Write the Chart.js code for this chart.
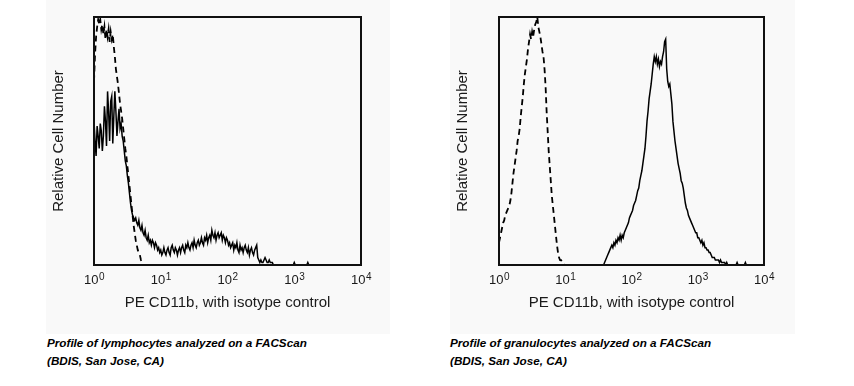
<!DOCTYPE html>
<html>
<head>
<meta charset="utf-8">
<script src="https://cdn.jsdelivr.net/npm/chart.js@4.4.1/dist/chart.umd.min.js"></script>
<style>
    body { margin: 0; width: 854px; height: 386px; background: #fff; position: relative; overflow: hidden; font-family: 'Liberation Sans', Arial, sans-serif; }
    .panel { position: absolute; top: 0; height: 334px; background: #f9f9f9; }
    .caption { position: absolute; top: 334px; font-size: 11.7px; line-height: 18px; font-weight: bold; font-style: italic; color: #000; }
</style>
</head>
<body>
<div class="panel" style="left:46px; width:344px;"><canvas id="lymphChart" width="344" height="334"></canvas></div>
<div class="panel" style="left:450px; width:345px;"><canvas id="granChart" width="345" height="334"></canvas></div>
<div class="caption" style="left:47px;">Profile of lymphocytes analyzed on a FACScan<br>(BDIS, San Jose, CA)</div>
<div class="caption" style="left:450px;">Profile of granulocytes analyzed on a FACScan<br>(BDIS, San Jose, CA)</div>

<script>
// x axis is in channels, 64 channels per decade (10^0 .. 10^4)
const tickChannels = [0, 64, 128, 192, 256];
const tickBase = '10';
const tickExponents = ['0', '1', '2', '3', '4'];
const xTitle = 'PE CD11b, with isotype control';
const yTitle = 'Relative Cell Number';

// Lymphocytes - isotype control (dashed), starts at channel 0
const lymphIsoStart = 0;
const lymphIso = [74, 85, 92, 96, 99, 97, 99, 95, 97, 93, 96, 91, 95, 92, 95, 90, 94, 91, 93, 88,
    84, 79, 76, 73, 69, 65, 62, 59, 55, 51, 47, 44, 40, 36, 32, 28, 24, 20, 16, 13,
    10, 8, 6, 5, 4, 2, 1, 0];

// Lymphocytes - PE CD11b (solid), starts at channel 0
const lymphStainStart = 0;
const lymphStain = [58, 50, 44, 56, 52, 47, 57, 54, 46, 52,
    64, 58, 48, 70, 62, 50, 66, 68, 49, 60,
    70, 62, 52, 58, 63, 55, 57, 52, 50, 46,
    42, 40, 36, 33, 29, 25, 22, 20, 19, 18,
    19, 17, 16, 18, 15, 14, 16, 13, 12, 14,
    11, 10, 12, 9, 10, 8, 10, 9, 7, 9,
    8, 6, 7, 5, 6, 4, 5, 7, 5, 4,
    6, 7, 5, 4, 7, 8, 6, 5, 7, 6,
    4, 6, 7, 5, 7, 8, 6, 5, 8, 7,
    9, 7, 6, 8, 9, 7, 10, 8, 7, 9,
    10, 8, 9, 11, 9, 8, 11, 10, 12, 9,
    11, 12, 10, 14, 12, 11, 13, 10, 12, 13,
    11, 12, 13, 10, 12, 11, 9, 11, 10, 8,
    9, 7, 8, 9, 6, 8, 7, 9, 6, 5,
    8, 6, 7, 5, 7, 8, 6, 5, 7, 4,
    6, 7, 5, 4, 6, 7, 8, 3, 2, 1,
    2, 1, 1, 2, 3, 2, 1, 1, 2, 1,
    1, 1, 0, 0, 0, 0, 0, 0, 0, 0,
    0, 0, 0, 0, 0, 0, 0, 0, 0, 0,
    0, 0, 1, 0, 0, 0, 0, 0, 0, 0,
    0, 0, 0, 0, 0, 1, 0, 0];

// Granulocytes - isotype control (dashed)
const granIsoStart = 0;
const granIso = [9, 11, 13, 15, 17, 18, 20, 21, 22, 23, 24, 26, 29, 33, 37, 40, 43, 46, 50, 52,
    55, 60, 64, 68, 73, 77, 80, 83, 87, 90, 93, 91, 94, 92, 95, 97, 98, 100, 96, 94,
    92, 89, 86, 84, 79, 72, 62, 54, 46, 40, 34, 28, 24, 20, 16, 12, 8, 5, 3, 2,
    2, 1, 1, 0, 0];

// Granulocytes - PE CD11b (solid), starts at channel 100
const granStainStart = 100;
const granStain = [0, 0, 1, 2, 3, 4, 5, 6, 7, 8,
    7, 9, 8, 10, 9, 11, 10, 12, 10, 12,
    11, 13, 14, 15, 16, 17, 19, 20, 21, 22,
    24, 25, 26, 28, 30, 31, 34, 36, 38, 41,
    44, 47, 52, 58, 62, 67, 70, 73, 77, 81,
    84, 82, 84, 81, 83, 80, 82, 81, 84, 86,
    90, 91, 79, 74, 72, 73, 69, 65, 58, 54,
    50, 47, 44, 41, 39, 37, 34, 33, 31, 28,
    25, 23, 22, 20, 19, 18, 17, 16, 15, 14,
    13, 13, 11, 11, 10, 9, 10, 8, 9, 7,
    7, 6, 6, 5, 5, 4, 3, 3, 3, 2,
    2, 2, 2, 1, 2, 1, 1, 1, 1, 0,
    1, 0, 0, 0, 0, 0, 0, 0, 0, 0,
    1, 0, 0, 0, 0, 0, 0, 0, 1, 0,
    0, 0, 0, 0, 0, 0];

const fontFamily = "'Liberation Sans', Arial, sans-serif";
const textColor = '#1a1a1a';

function toPoints(start, values) {
    return values.map((y, i) => ({ x: start + i, y: y }));
}

// black frame round the plot area + "10^n" tick labels with a real superscript
const frameAndTicks = {
    id: 'frameAndTicks',
    afterDraw(chart) {
        const { ctx, chartArea } = chart;
        const xScale = chart.scales.x;
        ctx.save();
        ctx.strokeStyle = '#111';
        ctx.lineWidth = 2;
        ctx.strokeRect(chartArea.left, chartArea.top, chartArea.right - chartArea.left, chartArea.bottom - chartArea.top);

        ctx.fillStyle = textColor;
        ctx.textBaseline = 'alphabetic';
        ctx.textAlign = 'left';
        tickChannels.forEach((ch, i) => {
            const px = xScale.getPixelForValue(ch);
            ctx.font = `13px ${fontFamily}`;
            const baseW = ctx.measureText(tickBase).width;
            ctx.font = `10px ${fontFamily}`;
            const expW = ctx.measureText(tickExponents[i]).width;
            const x0 = px - (baseW + expW) / 2;
            ctx.font = `13px ${fontFamily}`;
            ctx.fillText(tickBase, x0, chartArea.bottom + 18.5);
            ctx.font = `10px ${fontFamily}`;
            ctx.fillText(tickExponents[i], x0 + baseW + 0.5, chartArea.bottom + 14.5);
        });
        ctx.restore();
    }
};

function renderHistogram(canvasId, isoStart, iso, stainStart, stain, yAxisWidth, rightPad) {
    const ctx = document.getElementById(canvasId).getContext('2d');
    new Chart(ctx, {
        type: 'line',
        data: {
            datasets: [
                {
                    label: 'PE CD11b',
                    data: toPoints(stainStart, stain),
                    borderColor: '#000',
                    borderWidth: 1.5,
                    pointRadius: 0,
                    tension: 0
                },
                {
                    label: 'Isotype control',
                    data: toPoints(isoStart, iso),
                    borderColor: '#000',
                    borderWidth: 1.8,
                    borderDash: [6, 4],
                    pointRadius: 0,
                    tension: 0
                }
            ]
        },
        options: {
            responsive: false,
            animation: false,
            layout: { padding: { top: 17, right: rightPad, left: 0, bottom: 0 } },
            plugins: {
                legend: { display: false },
                tooltip: { enabled: false }
            },
            scales: {
                x: {
                    type: 'linear',
                    min: 0,
                    max: 256,
                    afterBuildTicks: (scale) => {
                        scale.ticks = tickChannels.map(v => ({ value: v }));
                    },
                    afterFit: (scale) => { scale.height = 69; },
                    ticks: { display: false },
                    grid: { display: false, drawTicks: false },
                    border: { display: false },
                    title: {
                        display: true,
                        text: xTitle,
                        color: textColor,
                        font: { family: fontFamily, size: 15 },
                        padding: { top: 22, bottom: 22 }
                    }
                },
                y: {
                    min: 0,
                    max: 100,
                    afterFit: (scale) => { scale.width = yAxisWidth; },
                    ticks: { display: false },
                    grid: { display: false, drawTicks: false },
                    border: { display: false },
                    title: {
                        display: true,
                        text: yTitle,
                        color: textColor,
                        font: { family: fontFamily, size: 15 },
                        padding: { top: 4, bottom: 4 }
                    }
                }
            }
        },
        plugins: [frameAndTicks]
    });
}

renderHistogram('lymphChart', lymphIsoStart, lymphIso, lymphStainStart, lymphStain, 48, 29);
renderHistogram('granChart', granIsoStart, granIso, granStainStart, granStain, 49, 31);
</script>
</body>
</html>
